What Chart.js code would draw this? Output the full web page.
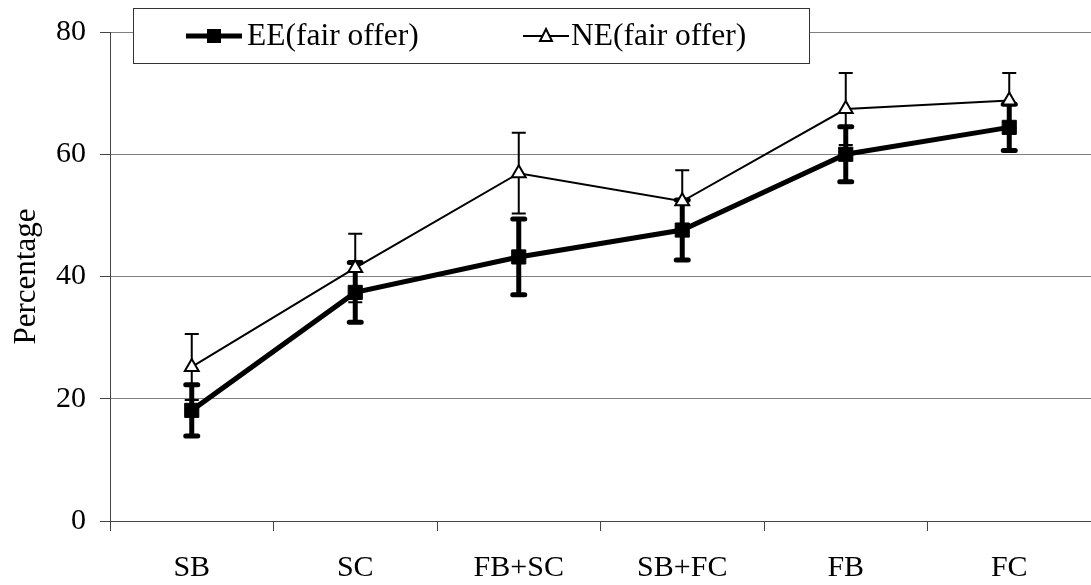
<!DOCTYPE html>
<html>
<head>
<meta charset="utf-8">
<script src="https://cdn.jsdelivr.net/npm/chart.js@4/dist/chart.umd.min.js"></script>
<style>
  html, body { margin: 0; padding: 0; background: #fff; overflow: hidden; }
  #wrap { width: 1102px; height: 585px; position: relative; }
</style>
</head>
<body>
<div id="wrap"><canvas id="grafico"></canvas></div>
<script>
// dados
const categorias = ['SB', 'SC', 'FB+SC', 'SB+FC', 'FB', 'FC'];
const eeValores = [18.1, 37.4, 43.2, 47.6, 60.0, 64.4];
const eeErros = [4.2, 4.9, 6.2, 4.9, 4.5, 3.8];
const neValores = [25.2, 41.4, 56.9, 52.3, 67.4, 68.8];
const neErros = [5.4, 5.6, 6.6, 5.1, 5.9, 4.5];
const ticksY = [0, 20, 40, 60, 80];

const fonte = '"Liberation Serif", "Times New Roman", serif';

// barras de erro, desenhadas antes das linhas
const barrasErro = {
    id: 'barrasErro',
    beforeDatasetsDraw(chart) {
        const ctx = chart.ctx;
        const x = chart.scales.x, y = chart.scales.y;
        const series = [
            { v: neValores, e: neErros, w: 2, cap: 7 },
            { v: eeValores, e: eeErros, w: 5, cap: 6 }
        ];
        ctx.save();
        ctx.strokeStyle = '#000';
        series.forEach(s => {
            s.v.forEach((val, i) => {
                const px = x.getPixelForValue(i);
                const top = y.getPixelForValue(val + s.e[i]);
                const bot = y.getPixelForValue(val - s.e[i]);
                ctx.lineWidth = s.w;
                ctx.lineCap = 'butt';
                ctx.beginPath();
                ctx.moveTo(px, top);
                ctx.lineTo(px, bot);
                ctx.stroke();
                ctx.lineCap = s.w > 2 ? 'round' : 'butt';
                ctx.beginPath();
                ctx.moveTo(px - s.cap, top); ctx.lineTo(px + s.cap, top);
                ctx.moveTo(px - s.cap, bot); ctx.lineTo(px + s.cap, bot);
                ctx.stroke();
            });
        });
        ctx.restore();
    }
};

// legenda com moldura
const legendaCaixa = {
    id: 'legendaCaixa',
    afterDraw(chart) {
        const ctx = chart.ctx;
        ctx.save();
        ctx.fillStyle = '#fff';
        ctx.strokeStyle = '#333';
        ctx.lineWidth = 1;
        ctx.fillRect(133.5, 8.5, 676, 55);
        ctx.strokeRect(133.5, 8.5, 676, 55);

        const ly = 36;
        // EE
        ctx.strokeStyle = '#000';
        ctx.lineWidth = 5;
        ctx.beginPath(); ctx.moveTo(186, ly); ctx.lineTo(242, ly); ctx.stroke();
        ctx.fillStyle = '#000';
        ctx.fillRect(207, ly - 7, 14, 14);
        // NE
        ctx.lineWidth = 2;
        ctx.beginPath(); ctx.moveTo(523, ly); ctx.lineTo(569, ly); ctx.stroke();
        ctx.beginPath();
        ctx.moveTo(546, ly - 7); ctx.lineTo(552, ly + 5); ctx.lineTo(540, ly + 5); ctx.closePath();
        ctx.fillStyle = '#fff'; ctx.fill(); ctx.stroke();

        ctx.fillStyle = '#000';
        ctx.font = '31.5px ' + fonte;
        ctx.textBaseline = 'middle';
        ctx.fillText('EE(fair offer)', 247, ly + 1);
        ctx.fillText('NE(fair offer)', 571, ly + 1);
        ctx.restore();
    }
};

const ctx = document.getElementById('grafico').getContext('2d');
new Chart(ctx, {
    type: 'line',
    data: {
        labels: categorias,
        datasets: [
            {
                label: 'EE(fair offer)',
                data: eeValores,
                borderColor: '#000',
                backgroundColor: '#000',
                borderWidth: 5,
                pointStyle: 'rect',
                pointRadius: 10,
                pointBorderWidth: 1,
                tension: 0
            },
            {
                label: 'NE(fair offer)',
                data: neValores,
                borderColor: '#000',
                backgroundColor: '#fff',
                borderWidth: 2,
                pointStyle: 'triangle',
                pointRadius: 8,
                pointBorderWidth: 2,
                tension: 0
            }
        ]
    },
    options: {
        responsive: true,
        maintainAspectRatio: false,
        animation: false,
        layout: { padding: { top: 32, right: 2, left: 0, bottom: 0 } },
        plugins: {
            legend: { display: false },
            tooltip: { enabled: false }
        },
        scales: {
            x: {
                offset: true,
                grid: {
                    offset: true,
                    drawOnChartArea: false,
                    drawTicks: true,
                    tickLength: 10,
                    color: '#444'
                },
                border: { display: true, color: '#444', width: 1 },
                ticks: {
                    color: '#000',
                    padding: 19,
                    font: { family: fonte, size: 30 }
                },
                afterFit(scale) { scale.height = 64; }
            },
            y: {
                min: 0,
                max: 80,
                afterBuildTicks(scale) { scale.ticks = ticksY.map(v => ({ value: v })); },
                grid: {
                    color: '#808080',
                    tickColor: '#444',
                    tickLength: 10,
                    lineWidth: 1
                },
                border: { display: true, color: '#444', width: 1 },
                ticks: {
                    color: '#000',
                    padding: 14,
                    font: { family: fonte, size: 30 }
                },
                title: {
                    display: true,
                    text: 'Percentage',
                    color: '#000',
                    font: { family: fonte, size: 31 },
                    padding: { top: 8, bottom: 0 }
                },
                afterFit(scale) { scale.width = 110; }
            }
        }
    },
    plugins: [barrasErro, legendaCaixa]
});
</script>
</body>
</html>
